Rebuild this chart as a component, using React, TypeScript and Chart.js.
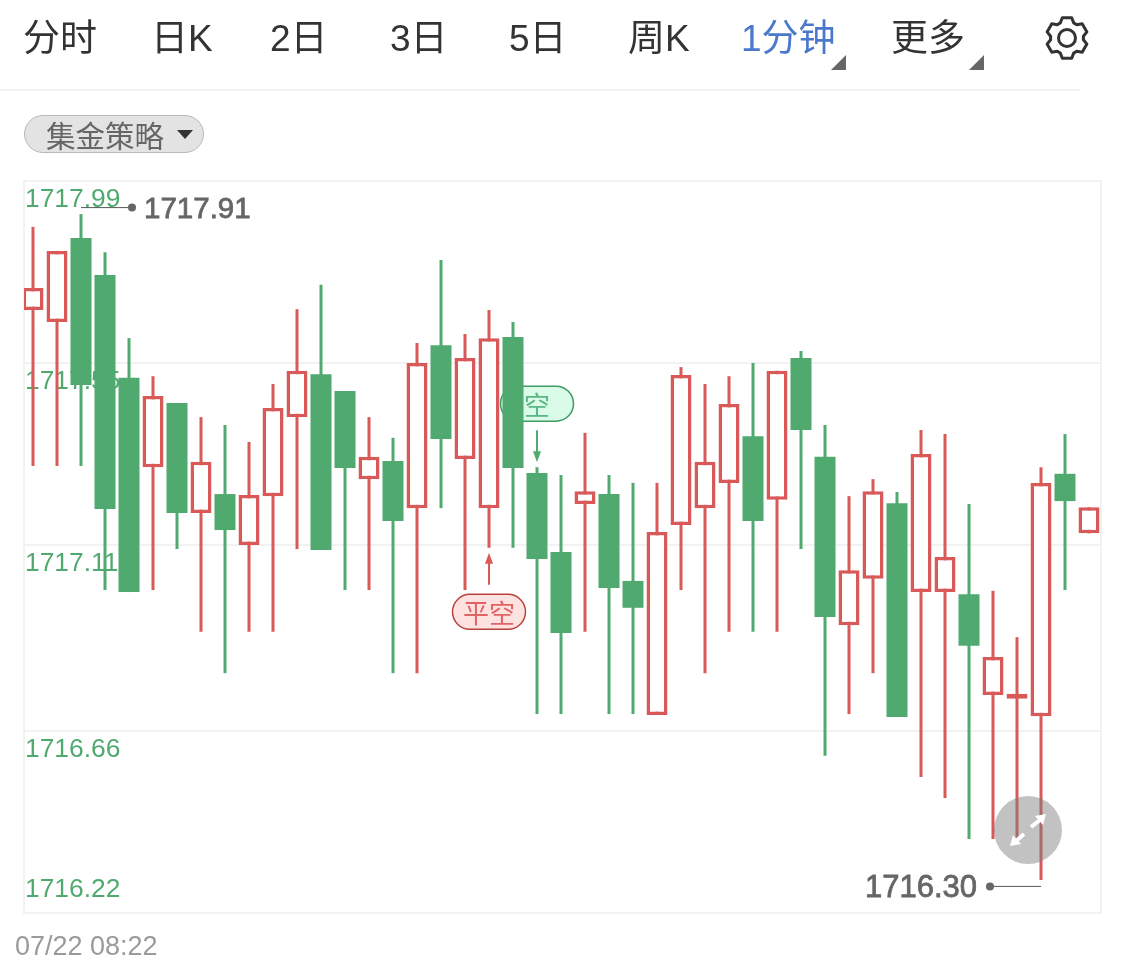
import React, { useEffect, useRef } from "react";
import { Chart, registerables } from "chart.js";

Chart.register(...registerables);

// Candles, oldest first. Red (hollow) when close >= open.
const HIGH = [
  1717.879, 1717.821, 1717.910, 1717.818, 1717.610, 1717.518, 1717.453, 1717.419, 1717.400, 1717.359,
  1717.499, 1717.680, 1717.739, 1717.482, 1717.419, 1717.369, 1717.598, 1717.799, 1717.620, 1717.678,
  1717.649, 1717.298, 1717.279, 1717.381, 1717.279, 1717.260, 1717.260, 1717.540, 1717.499, 1717.518,
  1717.550, 1717.531, 1717.579, 1717.400, 1717.228, 1717.269, 1717.238, 1717.388, 1717.378, 1717.209,
  1716.999, 1716.887, 1717.298, 1717.378, 1717.201,
];
const LOW = [
  1717.301, 1717.301, 1717.301, 1717.001, 1716.996, 1717.001, 1717.100, 1716.900, 1716.800, 1716.900,
  1716.900, 1717.100, 1717.098, 1717.001, 1717.001, 1716.800, 1716.800, 1717.199, 1717.001, 1717.103,
  1717.103, 1716.701, 1716.701, 1716.900, 1716.701, 1716.701, 1716.699, 1717.001, 1716.800, 1716.900,
  1716.900, 1716.900, 1717.100, 1716.600, 1716.701, 1716.800, 1716.694, 1716.549, 1716.498, 1716.399,
  1716.399, 1716.399, 1716.300, 1717.001, 1717.138,
];
const OPEN = [
  1717.678, 1717.649, 1717.852, 1717.763, 1717.514, 1717.298, 1717.453, 1717.187, 1717.233, 1717.110,
  1717.228, 1717.419, 1717.523, 1717.482, 1717.269, 1717.313, 1717.199, 1717.593, 1717.318, 1717.199,
  1717.613, 1717.284, 1717.093, 1717.209, 1717.233, 1717.023, 1716.699, 1717.158, 1717.199, 1717.260,
  1717.373, 1717.219, 1717.562, 1717.323, 1716.916, 1717.028, 1717.211, 1716.996, 1716.996, 1716.991,
  1716.747, 1716.738, 1716.696, 1717.282, 1717.138,
];
const CLOSE = [
  1717.731, 1717.821, 1717.497, 1717.197, 1716.996, 1717.470, 1717.187, 1717.311, 1717.146, 1717.231,
  1717.441, 1717.531, 1717.098, 1717.296, 1717.323, 1717.168, 1717.550, 1717.366, 1717.562, 1717.610,
  1717.296, 1717.076, 1716.897, 1717.240, 1717.006, 1716.958, 1717.141, 1717.521, 1717.311, 1717.451,
  1717.168, 1717.531, 1717.388, 1716.936, 1717.049, 1717.240, 1716.694, 1717.330, 1717.081, 1716.866,
  1716.839, 1716.750, 1717.260, 1717.216, 1717.201,
];

const Y_TICKS = [1717.99, 1717.55, 1717.11, 1716.66, 1716.22];
const Y_MIN = 1716.22;
const Y_MAX = 1717.99;
const X_MIN = -0.375;
const X_MAX = 44.5;
const START_TIME = "07/22 08:22";

const HIGH_MARK = { index: 2, value: 1717.91, text: "1717.91" };
const LOW_MARK = { index: 42, value: 1716.3, text: "1716.30" };
const TRADE_MARKS = [
  { index: 19, text: "平空", kind: "close" },
  { index: 21, text: "空", kind: "open" },
];

const TABS: [string, number][] = [
  ["分时", 23], ["日K", 151], ["2日", 270], ["3日", 390], ["5日", 509], ["周K", 628], ["1分钟", 741], ["更多", 891],
];

const RED = "#d95858";
const GREEN = "#50aa6f";
const GRID = "#f2f2f2";
const LATIN = '"Liberation Sans","Noto Sans CJK SC",sans-serif';
const CJK = '"Noto Sans CJK SC","Liberation Sans",sans-serif';

const idx = HIGH.map((_, i) => i);
const rising = (i: number) => CLOSE[i] >= OPEN[i];

function pill(ctx: CanvasRenderingContext2D, cx: number, cy: number, fill: string, stroke: string, color: string, text: string) {
  ctx.beginPath();
  ctx.roundRect(cx - 36.5, cy - 17.5, 73, 35, 17.5);
  ctx.fillStyle = fill;
  ctx.fill();
  ctx.lineWidth = 1.5;
  ctx.strokeStyle = stroke;
  ctx.stroke();
  ctx.fillStyle = color;
  ctx.font = `26px ${CJK}`;
  ctx.textAlign = "center";
  ctx.textBaseline = "middle";
  ctx.fillText(text, cx, cy + 1);
}

const tradeMarks = {
  id: "tradeMarks",
  beforeDatasetsDraw(chart: any) {
    const { ctx, scales } = chart;
    ctx.save();
    for (const m of TRADE_MARKS) {
      const x = scales.x.getPixelForValue(m.index);
      if (m.kind === "close") {
        const y = scales.y.getPixelForValue(LOW[m.index]);
        ctx.strokeStyle = RED;
        ctx.fillStyle = RED;
        ctx.lineWidth = 2;
        ctx.beginPath();
        ctx.moveTo(x, y + 12);
        ctx.lineTo(x, y + 37);
        ctx.stroke();
        ctx.beginPath();
        ctx.moveTo(x, y + 5);
        ctx.lineTo(x - 4, y + 16);
        ctx.lineTo(x + 4, y + 16);
        ctx.closePath();
        ctx.fill();
        pill(ctx, x, y + 64, "#fde2e0", "#b8423e", "#e06464", m.text);
      } else {
        const y = scales.y.getPixelForValue(HIGH[m.index]);
        ctx.strokeStyle = GREEN;
        ctx.fillStyle = GREEN;
        ctx.lineWidth = 2;
        ctx.beginPath();
        ctx.moveTo(x, y - 37);
        ctx.lineTo(x, y - 14);
        ctx.stroke();
        ctx.beginPath();
        ctx.moveTo(x, y - 5);
        ctx.lineTo(x - 4, y - 16);
        ctx.lineTo(x + 4, y - 16);
        ctx.closePath();
        ctx.fill();
        pill(ctx, x, y - 63.5, "#d9fbe7", "#3f9a63", "#5cb685", m.text);
      }
    }
    ctx.restore();
  },
};

const extremeMarks = {
  id: "extremeMarks",
  afterDatasetsDraw(chart: any) {
    const { ctx, scales } = chart;
    ctx.save();
    const draw = (x0: number, x1: number, y: number, text: string, size: number, tx: number, align: CanvasTextAlign) => {
      ctx.strokeStyle = "#5a5a5a";
      ctx.lineWidth = 1;
      ctx.beginPath();
      ctx.moveTo(x0, y + 0.5);
      ctx.lineTo(x1, y + 0.5);
      ctx.stroke();
      ctx.fillStyle = "#666666";
      ctx.beginPath();
      ctx.arc(x1, y + 0.5, 4, 0, Math.PI * 2);
      ctx.fill();
      ctx.font = `${size}px ${LATIN}`;
      ctx.textAlign = align;
      ctx.textBaseline = "middle";
      ctx.lineWidth = 0.8;
      ctx.strokeStyle = "#666666";
      ctx.fillText(text, tx, y + 3);
      ctx.strokeText(text, tx, y + 3);
    };
    const hx = scales.x.getPixelForValue(HIGH_MARK.index);
    const hy = scales.y.getPixelForValue(HIGH_MARK.value) - 7;
    draw(hx, hx + 51, hy, HIGH_MARK.text, 29.5, hx + 63, "left");
    const lx = scales.x.getPixelForValue(LOW_MARK.index);
    const ly = scales.y.getPixelForValue(LOW_MARK.value) + 6;
    draw(lx, lx - 51, ly, LOW_MARK.text, 31, lx - 64, "right");
    ctx.restore();
  },
};

function gearPath(cx: number, cy: number) {
  const pts: string[] = [];
  for (let k = 0; k < 6; k++) {
    const a = ((k * 60 - 90) * Math.PI) / 180;
    const p = (r: number, d: number) => {
      const t = a + (d * Math.PI) / 180;
      return `${(cx + r * Math.cos(t)).toFixed(1)} ${(cy + r * Math.sin(t)).toFixed(1)}`;
    };
    pts.push(p(16.5, -24), p(20.8, -13), p(20.8, 13), p(16.5, 24));
  }
  return "M" + pts.join("L") + "Z";
}

export default function App() {
  const ref = useRef<HTMLCanvasElement>(null);

  useEffect(() => {
    const bodies = (up: boolean) =>
      idx.filter((i) => rising(i) === up).map((i) => ({ x: i, y: [OPEN[i], CLOSE[i]] }));
    const chart = new Chart(ref.current!, {
      type: "bar",
      data: {
        datasets: [
          {
            label: "wick",
            order: 3,
            grouped: false,
            barThickness: 3,
            inflateAmount: 0,
            data: idx.map((i) => ({ x: i, y: [LOW[i], HIGH[i]] })),
            backgroundColor: idx.map((i) => (rising(i) ? RED : GREEN)),
            borderWidth: 0,
          },
          {
            label: "fall",
            order: 2,
            grouped: false,
            barThickness: 21,
            inflateAmount: 0,
            data: bodies(false),
            backgroundColor: GREEN,
            borderWidth: 0,
          },
          {
            label: "rise",
            order: 1,
            grouped: false,
            barThickness: 21,
            inflateAmount: 0,
            data: bodies(true),
            backgroundColor: "#ffffff",
            borderColor: RED,
            borderWidth: 3.5,
            borderSkipped: false,
          },
        ] as any,
      },
      options: {
        responsive: false,
        animation: false,
        events: [],
        layout: { padding: { left: 24, top: 181, right: 24, bottom: 0 } },
        plugins: { legend: { display: false }, tooltip: { enabled: false }, title: { display: false } },
        scales: {
          x: {
            type: "linear",
            offset: false,
            min: X_MIN,
            max: X_MAX,
            afterBuildTicks: (s: any) => {
              s.ticks = [{ value: X_MIN }, { value: X_MAX }];
            },
            afterFit: (s: any) => {
              s.height = 55;
            },
            grid: { offset: false, color: GRID, lineWidth: 2, drawTicks: true, tickLength: 18, tickColor: "transparent", z: -1 },
            border: { color: GRID, width: 2, z: -1 },
            ticks: {
              z: -1,
              autoSkip: false,
              maxRotation: 0,
              align: "start",
              padding: 0,
              labelOffset: -9,
              color: "#9a9a9a",
              font: { family: LATIN, size: 27 },
              callback: (v: any) => (v === X_MIN ? START_TIME : ""),
            },
          },
          y: {
            type: "linear",
            min: Y_MIN,
            max: Y_MAX,
            afterBuildTicks: (s: any) => {
              s.ticks = Y_TICKS.map((value) => ({ value }));
            },
            afterFit: (s: any) => {
              s.width = 0;
            },
            grid: { color: GRID, lineWidth: 2, drawTicks: false, z: -1 },
            border: { color: GRID, width: 2, z: -1 },
            ticks: {
              z: -1,
              mirror: true,
              padding: 1,
              labelOffset: 19,
              color: GREEN,
              font: { family: LATIN, size: 26.4 },
              callback: (v: any) => (v === Y_MIN ? "" : Number(v).toFixed(2)),
            },
          },
          y2: {
            type: "linear",
            position: "left",
            min: Y_MIN,
            max: Y_MAX,
            afterBuildTicks: (s: any) => {
              s.ticks = [{ value: Y_MIN }];
            },
            afterFit: (s: any) => {
              s.width = 0;
            },
            grid: { display: false },
            border: { display: false },
            ticks: {
              z: -1,
              mirror: true,
              padding: 1,
              labelOffset: -23,
              color: GREEN,
              font: { family: LATIN, size: 26.4 },
              callback: (v: any) => Number(v).toFixed(2),
            },
          },
        },
      } as any,
      plugins: [tradeMarks, extremeMarks],
    });
    return () => chart.destroy();
  }, []);

  return (
    <div style={{ position: "absolute", left: 0, top: 0, width: 1125, height: 968, background: "#fff", overflow: "hidden" }}>
      <canvas ref={ref} width={1125} height={968} style={{ position: "absolute", left: 0, top: 0, width: 1125, height: 968 }} />

      {TABS.map(([t, x]) => (
        <span
          key={t}
          style={{
            position: "absolute",
            left: x,
            top: 17,
            font: `37px/44px ${LATIN}`,
            color: t === "1分钟" ? "#4a78cc" : "#333",
            whiteSpace: "nowrap",
          }}
        >
          {t}
        </span>
      ))}
      <svg width={1125} height={100} style={{ position: "absolute", left: 0, top: 0 }}>
        <polygon points="831,70 846,70 846,55" fill="#666" />
        <polygon points="969,70 984,70 984,55" fill="#666" />
        <path d={gearPath(1067, 38)} fill="none" stroke="#333" strokeWidth={3} strokeLinejoin="round" />
        <circle cx={1067} cy={38} r={8.5} fill="none" stroke="#333" strokeWidth={3} />
        <rect x={0} y={89} width={1080} height={2} fill="#f2f2f2" />
      </svg>

      <div
        style={{
          position: "absolute",
          left: 24,
          top: 115,
          width: 180,
          height: 38,
          boxSizing: "border-box",
          background: "#e3e3e3",
          border: "1px solid #b8b8b8",
          borderRadius: 19,
        }}
      >
        <span style={{ position: "absolute", left: 21, top: 0, font: `29.5px/36px ${CJK}`, color: "#666", whiteSpace: "nowrap" }}>集金策略</span>
        <svg width={18} height={12} style={{ position: "absolute", left: 152, top: 14 }}>
          <polygon points="0,0 16,0 8,9" fill="#333" />
        </svg>
      </div>

      <svg width={68} height={68} style={{ position: "absolute", left: 994, top: 796 }}>
        <circle cx={34} cy={34} r={34} fill="rgba(125,125,125,0.47)" />
        <g stroke="#fff" strokeWidth={4} fill="#fff">
          <line x1={37} y1={31} x2={46} y2={24} />
          <polygon points="52,18 41,20 49,29" stroke="none" />
          <line x1={30} y1={38} x2={22} y2={45} />
          <polygon points="16,50 27,48 19,39" stroke="none" />
        </g>
      </svg>
    </div>
  );
}
